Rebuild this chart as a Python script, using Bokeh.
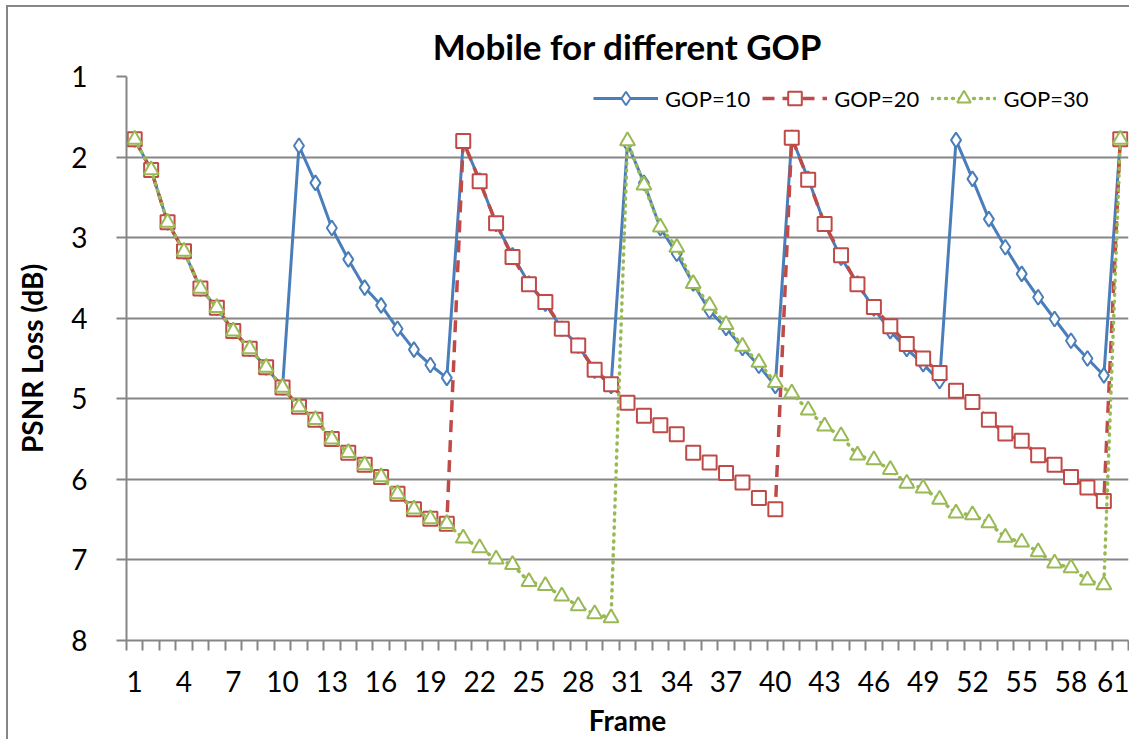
from bokeh.plotting import figure
from bokeh.models import Range1d, FixedTicker, Legend, LegendItem
from bokeh.embed import file_html
from bokeh.resources import INLINE

# ---- data ----
frames = list(range(1, 62))

gop10 = [1.78, 2.16, 2.81, 3.17, 3.63, 3.87, 4.16, 4.38, 4.61, 4.86,
         1.86, 2.32, 2.88, 3.27, 3.62, 3.84, 4.13, 4.39, 4.58, 4.74,
         1.81, 2.29, 2.83, 3.22, 3.57, 3.82, 4.13, 4.34, 4.65, 4.84,
         1.83, 2.32, 2.88, 3.20, 3.57, 3.91, 4.12, 4.37, 4.59, 4.84,
         1.76, 2.27, 2.83, 3.25, 3.57, 3.88, 4.16, 4.38, 4.57, 4.78,
         1.79, 2.27, 2.77, 3.12, 3.45, 3.74, 4.01, 4.28, 4.50, 4.71,
         1.79]

gop20 = [1.78, 2.16, 2.81, 3.17, 3.63, 3.87, 4.16, 4.38, 4.61, 4.86,
         5.10, 5.26, 5.50, 5.67, 5.82, 5.97, 6.18, 6.37, 6.49, 6.55,
         1.80, 2.30, 2.82, 3.24, 3.58, 3.80, 4.13, 4.34, 4.64, 4.82,
         5.05, 5.21, 5.33, 5.44, 5.67, 5.79, 5.92, 6.04, 6.23, 6.37,
         1.76, 2.28, 2.83, 3.22, 3.58, 3.86, 4.10, 4.32, 4.50, 4.68,
         4.90, 5.04, 5.26, 5.43, 5.52, 5.70, 5.82, 5.97, 6.10, 6.27,
         1.78]

gop30 = [1.78, 2.16, 2.81, 3.17, 3.63, 3.87, 4.16, 4.38, 4.61, 4.86,
         5.10, 5.26, 5.50, 5.67, 5.82, 5.97, 6.18, 6.37, 6.49, 6.55,
         6.73, 6.85, 6.99, 7.06, 7.27, 7.32, 7.45, 7.57, 7.67, 7.72,
         1.80, 2.35, 2.87, 3.12, 3.57, 3.84, 4.08, 4.35, 4.55, 4.80,
         4.93, 5.14, 5.34, 5.46, 5.70, 5.76, 5.88, 6.05, 6.11, 6.25,
         6.42, 6.44, 6.54, 6.72, 6.78, 6.90, 7.04, 7.10, 7.25, 7.31,
         1.78]

x_label_ticks = list(range(1, 62, 3))
x_boundaries = [i + 0.5 for i in range(0, 62)]
y_ticks = [1, 2, 3, 4, 5, 6, 7, 8]

series_names = ["GOP=10", "GOP=20", "GOP=30"]

BLUE = "#4A7EBB"
RED = "#BE4B48"
GREEN = "#98B954"
GRAY = "#868686"
FONT = "Lato"

p = figure(width=1129, height=739, output_backend="svg", toolbar_location=None,
           x_range=Range1d(0.5, 61.5), y_range=Range1d(8, 1),
           min_border_left=126, min_border_top=76, min_border_right=1,
           min_border_bottom=99, title="Mobile for different GOP")
p.styles = {
    "background": ("linear-gradient(#868686,#868686) 6px 5px / 2px 100% no-repeat, "
                   "linear-gradient(#868686,#868686) 6px 5px / 100% 2px no-repeat, "
                   "#ffffff"),
}
p.outline_line_color = None
p.background_fill_color = "white"
p.border_fill_color = None

p.title.text_font = FONT
p.title.text_font_size = "35px"
p.title.text_font_style = "bold"
p.title.text_color = "black"
p.title.align = "center"
p.title.standoff = 20

# y axis
p.yaxis.ticker = FixedTicker(ticks=y_ticks)
p.yaxis.axis_line_color = GRAY
p.yaxis.axis_line_width = 2
p.yaxis.major_tick_line_color = GRAY
p.yaxis.major_tick_line_width = 2
p.yaxis.major_tick_out = 10
p.yaxis.major_tick_in = 0
p.yaxis.minor_tick_out = 0
p.yaxis.minor_tick_in = 0
p.yaxis.major_label_text_font = FONT
p.yaxis.major_label_text_font_size = "28px"
p.yaxis.major_label_text_color = "black"
p.yaxis.major_label_standoff = 29
p.yaxis.axis_label = "PSNR Loss (dB)"
p.yaxis.axis_label_text_font = FONT
p.yaxis.axis_label_text_font_size = "28px"
p.yaxis.axis_label_text_font_style = "bold"
p.yaxis.axis_label_text_color = "black"
p.yaxis.axis_label_standoff = 19

# x axis
p.xaxis.ticker = FixedTicker(ticks=x_label_ticks, minor_ticks=x_boundaries)
p.xaxis.axis_line_color = GRAY
p.xaxis.axis_line_width = 2
p.xaxis.major_tick_out = 0
p.xaxis.major_tick_in = 0
p.xaxis.minor_tick_out = 10
p.xaxis.minor_tick_in = 0
p.xaxis.minor_tick_line_color = GRAY
p.xaxis.minor_tick_line_width = 2
p.xaxis.major_label_text_font = FONT
p.xaxis.major_label_text_font_size = "28px"
p.xaxis.major_label_text_color = "black"
p.xaxis.major_label_standoff = 20
p.xaxis.axis_label = "Frame"
p.xaxis.axis_label_text_font = FONT
p.xaxis.axis_label_text_font_size = "28px"
p.xaxis.axis_label_text_font_style = "bold"
p.xaxis.axis_label_text_color = "black"
p.xaxis.axis_label_standoff = 8

p.xgrid.visible = False
p.ygrid.grid_line_color = GRAY
p.ygrid.grid_line_width = 2

# series
l1 = p.line(frames, gop10, line_color=BLUE, line_width=3)
m1 = p.scatter(frames, gop10, marker="diamond", size=15, line_color=BLUE,
               fill_color="white", line_width=2)
l2 = p.line(frames, gop20, line_color=RED, line_width=3.5, line_dash="12 8")
m2 = p.scatter(frames, gop20, marker="square", size=14, line_color=RED,
               fill_color="white", line_width=2)
l3 = p.line(frames, gop30, line_color=GREEN, line_width=3.5, line_dash="1 6",
            line_cap="round")
m3 = p.scatter(frames, gop30, marker="triangle", size=15, line_color=GREEN,
               fill_color="white", line_width=2)

legend = Legend(items=[LegendItem(label=series_names[0], renderers=[l1, m1]),
                       LegendItem(label=series_names[1], renderers=[l2, m2]),
                       LegendItem(label=series_names[2], renderers=[l3, m3])],
                orientation="horizontal", location=(467, 525),
                glyph_width=65, glyph_height=34, label_height=34,
                label_standoff=7, spacing=12,
                padding=0, margin=0, border_line_color=None,
                background_fill_alpha=0, label_text_font=FONT,
                label_text_font_size="22px", label_text_color="black")
p.add_layout(legend)

open("out.html", "w").write(file_html(p, INLINE))
